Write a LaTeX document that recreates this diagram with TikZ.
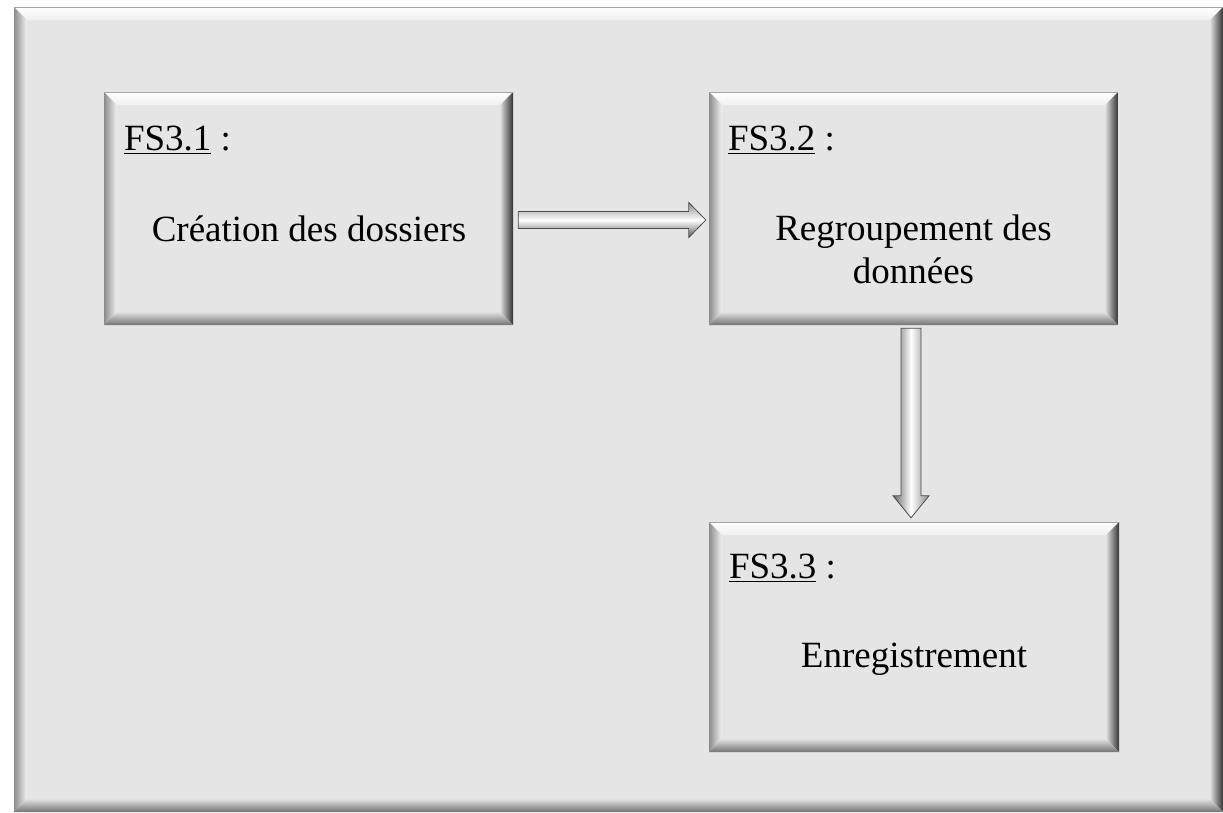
\documentclass[tikz,border=0pt]{standalone}
\usepackage{fontspec}
\setmainfont{Liberation Serif}
\usetikzlibrary{calc}
\newcommand\bevelpaint[1]{%
  \path (path picture bounding box.north west) coordinate (pNW)
        (path picture bounding box.south east) coordinate (pSE);
  \shade[top color=white, bottom color=black!6]
    let \p1=(pNW), \p2=(pSE) in
    (\x1,\y1) -- (\x2,\y1) -- (\x2-#1pt,\y1-#1pt) -- (\x1+#1pt,\y1-#1pt) -- cycle;
  \shade[left color=black!45, right color=black!5]
    let \p1=(pNW), \p2=(pSE) in
    (\x1,\y1) -- (\x1+#1pt,\y1-#1pt) -- (\x1+#1pt,\y2+#1pt) -- (\x1,\y2) -- cycle;
  \shade[left color=black!12, right color=black!80]
    let \p1=(pNW), \p2=(pSE) in
    (\x2,\y1) -- (\x2-#1pt,\y1-#1pt) -- (\x2-#1pt,\y2+#1pt) -- (\x2,\y2) -- cycle;
  \shade[top color=black!12, bottom color=black!55]
    let \p1=(pNW), \p2=(pSE) in
    (\x1,\y2) -- (\x1+#1pt,\y2+#1pt) -- (\x2-#1pt,\y2+#1pt) -- (\x2,\y2) -- cycle;
  \draw[black!35, line width=1pt]
    let \p1=(pNW), \p2=(pSE) in (\x1,\y1-0.5pt) -- (\x2,\y1-0.5pt);
}
\tikzset{
  bevelbox/.style={rectangle, fill=black!10, inner sep=0pt, draw=none,
    path picture={\bevelpaint{#1}}},
  lbl/.style={anchor=base west, inner sep=0pt, font=\fontsize{37pt}{43pt}\selectfont},
  txt/.style={anchor=base, inner sep=0pt, align=center, font=\fontsize{37pt}{43pt}\selectfont},
  fatarrow/.style={draw=black!70, line width=0.8pt, line join=miter},
}
\begin{document}
\begin{tikzpicture}[x=1pt,y=-1pt]
\useasboundingbox (0,0) rectangle (1223,812);
\node[bevelbox=13, minimum width=1209pt, minimum height=805pt] (frame) at (618.5,409.5) {};
\node[bevelbox=13, minimum width=409pt, minimum height=233pt] (b1) at (308.5,208.5) {};
\node[bevelbox=13, minimum width=409pt, minimum height=233pt] (b2) at (913.5,208.5) {};
\node[bevelbox=13, minimum width=410pt, minimum height=230pt] (b3) at (914,637) {};

\node[lbl] (l1) at ($(b1.north west)+(20pt,-59pt)$) {\underline{FS3.1} :};
\node[lbl] (l2) at ($(b2.north west)+(19pt,-59pt)$) {\underline{FS3.2} :};
\node[lbl] (l3) at ($(b3.north west)+(20pt,-57pt)$) {\underline{FS3.3} :};

\node[txt] (t1) at (309,241) {Création des dossiers};
\node[txt] (t2) at (913.5,283) {Regroupement des\\données};
\node[txt] (t3) at (914,667) {Enregistrement};

% horizontal arrow
\path ($(b1.east)+(5pt,-11.5pt)$) coordinate (a1s)
      ($(b2.west)+(-3pt,-11.5pt)$) coordinate (a1e);
\shadedraw[fatarrow, top color=black!45, bottom color=black!65, middle color=white]
  let \p1=(a1s), \p2=(a1e) in
  (\x1,\y1+8.5pt) -- (\x2-17pt,\y1+8.5pt) -- (\x2-17pt,\y1+17.5pt) -- (\x2,\y1)
  -- (\x2-17pt,\y1-17.5pt) -- (\x2-17pt,\y1-8.5pt) -- (\x1,\y1-8.5pt) -- cycle;
% vertical arrow
\path ($(b2.south)+(-2.5pt,-3pt)$) coordinate (a2s)
      ($(b3.north)+(-3pt,4pt)$) coordinate (a2e);
\shadedraw[fatarrow, left color=black!60, right color=black!45, middle color=white]
  let \p1=(a2s), \p2=(a2e) in
  (\x1-10pt,\y1) -- (\x1+10pt,\y1) -- (\x1+10pt,\y2+22pt) -- (\x1+18pt,\y2+22pt)
  -- (\x1,\y2) -- (\x1-18pt,\y2+22pt) -- (\x1-10pt,\y2+22pt) -- cycle;
\end{tikzpicture}
\end{document}
